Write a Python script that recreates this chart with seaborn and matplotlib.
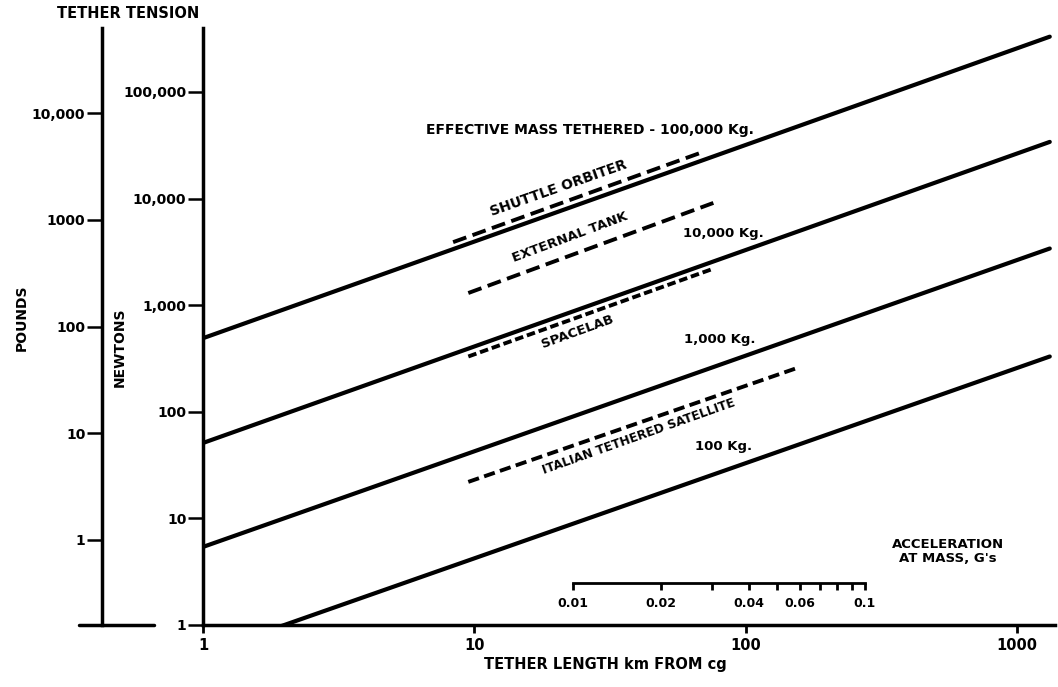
import pandas as pd
import seaborn as sns
import matplotlib.pyplot as plt
from matplotlib.ticker import NullLocator, NullFormatter

# tether length (km) at the two ends of each solid line
length_km = [1, 1320]

# tension in newtons for each effective mass
tension_100000kg = [490, 330000]
tension_10000kg = [51, 34000]
tension_1000kg = [5.4, 3400]
tension_100kg = [0.54, 330]
mass_labels = ['EFFECTIVE MASS TETHERED - 100,000 Kg.', '10,000 Kg.', '1,000 Kg.', '100 Kg.']

# dashed ranges for the vehicles
vehicle_names = ['SHUTTLE ORBITER', 'EXTERNAL TANK', 'SPACELAB', 'ITALIAN TETHERED SATELLITE']
shuttle_km = [8.35, 68]
shuttle_n = [3900, 26800]
tank_km = [9.5, 76]
tank_n = [1300, 9100]
spacelab_km = [9.5, 76]
spacelab_n = [330, 2200]
its_km = [9.5, 155]
its_n = [22, 258]

# axis ticks
x_ticks = [1, 10, 100, 1000]
x_labels = ['1', '10', '100', '1000']
newton_ticks = [1, 10, 100, 1000, 10000, 100000]
newton_labels = ['1', '10', '100', '1,000', '10,000', '100,000']
pound_ticks = [1, 10, 100, 1000, 10000]
pound_labels = ['1', '10', '100', '1000', '10,000']
N_PER_LB = 6.3  # as the pounds scale is drawn in the figure

accel_ticks = [0.01, 0.02, 0.04, 0.06, 0.1]
accel_labels = ['0.01', '0.02', '0.04', '0.06', '0.1']
accel_minor = [0.03, 0.05, 0.07, 0.08, 0.09]

sns.set_theme(style='white')
plt.rcParams['font.family'] = ['DejaVu Sans']
plt.rcParams['font.weight'] = 'bold'
plt.rcParams['text.color'] = 'black'
plt.rcParams['xtick.color'] = 'black'
plt.rcParams['ytick.color'] = 'black'
plt.rcParams['axes.edgecolor'] = 'black'

W, H = 1058, 687
fig = plt.figure(figsize=(W / 100, H / 100), dpi=100)
ax = fig.add_axes([203 / W, 1 - 625 / H, (1055 - 203) / W, (625 - 28) / H])

masses = pd.DataFrame({
    'length': length_km * 4,
    'tension': tension_100000kg + tension_10000kg + tension_1000kg + tension_100kg,
    'mass': [m for m in mass_labels for _ in length_km],
})
for m, grp in masses.groupby('mass', sort=False):
    sns.lineplot(data=grp, x='length', y='tension', ax=ax, color='black', lw=3,
                 estimator=None, legend=False)

vehicles = [(shuttle_km, shuttle_n, (3.6, 1.7)),
            (tank_km, tank_n, (3.6, 1.7)),
            (spacelab_km, spacelab_n, (2.2, 1.0)),
            (its_km, its_n, (2.9, 1.4))]
for km, n, dash in vehicles:
    sns.lineplot(x=km, y=n, ax=ax, color='black', lw=2.8, linestyle=(0, dash),
                 estimator=None, legend=False)

ax.set_xscale('log')
ax.set_yscale('log')
ax.set_xlim(1, 1380)
ax.set_ylim(1, 3.98e5)
ax.set_xticks(x_ticks, x_labels)
ax.set_yticks(newton_ticks, newton_labels)
ax.xaxis.set_minor_locator(NullLocator())
ax.yaxis.set_minor_locator(NullLocator())
ax.set_xlabel('')
ax.set_ylabel('')
sns.despine(ax=ax)
for s in ['left', 'bottom']:
    ax.spines[s].set_linewidth(2.5)
    ax.spines[s].set_color('black')
ax.tick_params(axis='y', direction='out', left=True, length=11, width=1.8, pad=1,
               labelsize=10, color='black', labelcolor='black')
ax.tick_params(axis='x', direction='out', bottom=True, length=6, width=2, pad=3,
               labelsize=10.5, color='black', labelcolor='black')

# pounds scale on the far left
sec = ax.secondary_yaxis(-0.1185, functions=(lambda n: n / N_PER_LB, lambda p: p * N_PER_LB))
sec.set_yticks(pound_ticks, pound_labels)
sec.yaxis.set_minor_locator(NullLocator())
sec.spines['left'].set_linewidth(2.5)
sec.spines['left'].set_color('black')
sec.tick_params(direction='out', left=True, length=11, width=1.8, pad=1, labelsize=10,
                color='black', labelcolor='black')
ax.plot([-0.1455, -0.0575], [0, 0], transform=ax.transAxes, clip_on=False,
        color='black', lw=2.5)

# curve labels
ax.text(26.7, 44000, mass_labels[0], ha='center', va='center', fontsize=10)
ax.text(82.6, 4750, mass_labels[1], ha='center', va='center', fontsize=9.5)
ax.text(80.5, 472, mass_labels[2], ha='center', va='center', fontsize=9.5)
ax.text(83, 46.8, mass_labels[3], ha='center', va='center', fontsize=9.5)

ax.text(20.5, 12500, vehicle_names[0], rotation=19.5, ha='center', va='center', fontsize=10)
ax.text(22.5, 4300, vehicle_names[1], rotation=20.5, ha='center', va='center', fontsize=9.5)
ax.text(23.9, 560, vehicle_names[2], rotation=20, ha='center', va='center', fontsize=9.5)
ax.text(40.5, 58, vehicle_names[3], rotation=19.6, ha='center', va='center', fontsize=8.7)

# acceleration scale
iax = fig.add_axes([573 / W, 1 - 583 / H, (865 - 573) / W, 0.001])
iax.set_xscale('log')
iax.set_xlim(0.01, 0.1)
iax.set_yticks([])
iax.set_xticks(accel_ticks, accel_labels)
iax.set_xticks(accel_minor, minor=True)
iax.xaxis.set_minor_formatter(NullFormatter())
for s in ['top', 'left', 'right']:
    iax.spines[s].set_visible(False)
iax.spines['bottom'].set_linewidth(2)
iax.spines['bottom'].set_color('black')
iax.patch.set_alpha(0)
iax.tick_params(which='both', direction='out', bottom=True, length=5, width=2,
                labelsize=9, pad=5, color='black', labelcolor='black')
fig.text(948 / W, 1 - 552 / H, "ACCELERATION\nAT MASS, G's", ha='center', va='center',
         fontsize=9.5, linespacing=1.1)

# titles
fig.text(128 / W, 1 - 13 / H, 'TETHER TENSION', ha='center', va='center', fontsize=10.5)
fig.text(22 / W, 1 - 318 / H, 'POUNDS', rotation=90, ha='center', va='center', fontsize=10)
fig.text(120 / W, 1 - 347 / H, 'NEWTONS', rotation=90, ha='center', va='center', fontsize=10)
fig.text(605 / W, 1 - 665 / H, 'TETHER LENGTH km FROM cg', ha='center', va='center',
         fontsize=10.5)

fig.savefig('out.png', dpi=100)
